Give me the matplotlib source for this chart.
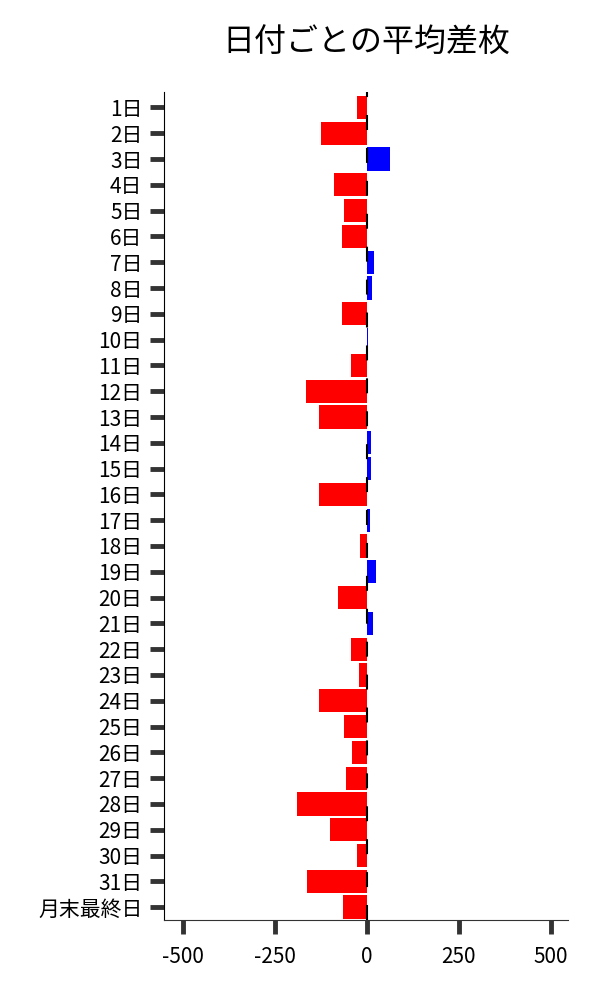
import matplotlib.pyplot as plt

plt.rcParams['font.family'] = ['Noto Sans CJK JP', 'DejaVu Sans']

# 日付ごとの平均差枚
days = [f'{i}日' for i in range(1, 32)] + ['月末最終日']
avg_diff = [-26, -124, 63, -89, -62, -67, 20, 14, -67, 3,
            -43, -165, -130, 11, 11, -130, 8, -18, 25, -78,
            16, -43, -21, -130, -62, -40, -56, -189, -100, -26,
            -162, -64]
xticks = [-500, -250, 0, 250, 500]


def main():
    fig = plt.figure(figsize=(6, 10), dpi=100)
    ax = fig.add_axes([0.2733, 0.08, 0.6734, 0.828])

    colors = ['red' if v < 0 else 'blue' for v in avg_diff]
    pos = list(range(len(days)))
    ax.barh(pos, avg_diff, height=0.9, color=colors, zorder=2)

    # 0 の基準線（破線）
    ax.axvline(0, color='black', linewidth=1.5, linestyle=(0, (7.2, 8.6)), zorder=3)

    ax.set_yticks(pos)
    ax.set_yticklabels(days)
    ax.set_ylim(len(days) - 0.5, -0.6)
    ax.set_xlim(-551, 547)
    ax.set_xticks(xticks)
    ax.set_xticklabels([str(t) for t in xticks])

    ax.spines['top'].set_visible(False)
    ax.spines['right'].set_visible(False)
    ax.spines['left'].set_color('black')
    ax.spines['bottom'].set_color('#333333')

    ax.tick_params(axis='both', length=10, width=3.5, color='#333333',
                   labelsize=15)
    ax.tick_params(axis='x', pad=9)
    ax.tick_params(axis='y', pad=5.5)

    fig.text(0.61, 0.957, '日付ごとの平均差枚', fontsize=23, ha='center', va='center')

    fig.savefig('out.png', dpi=100)


if __name__ == '__main__':
    main()
